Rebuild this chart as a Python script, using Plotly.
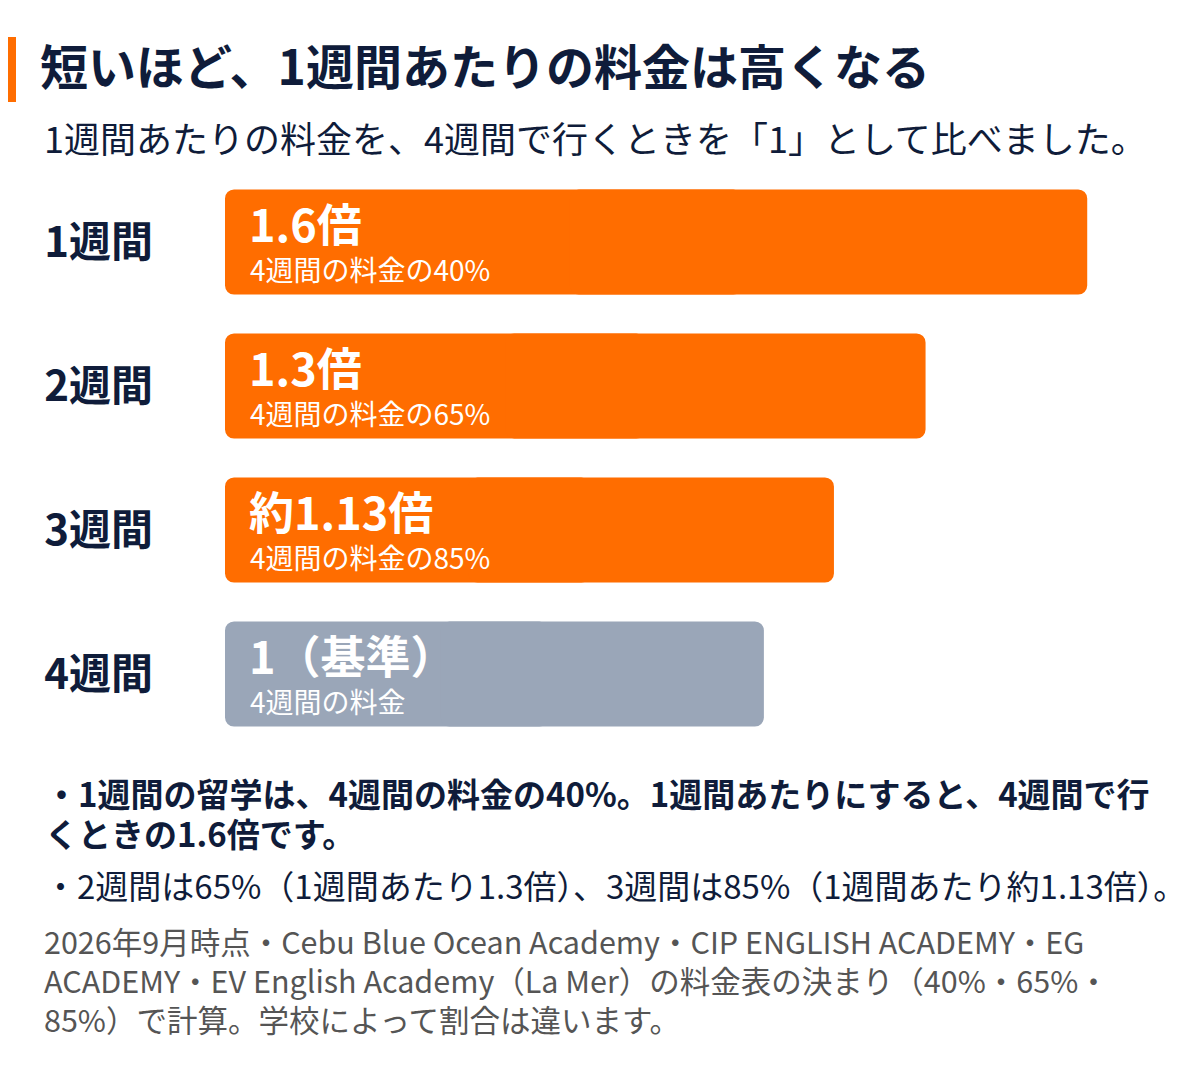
import plotly.graph_objects as go

# Data
periods = ["1週間", "2週間", "3週間", "4週間"]
ratios = [1.6, 1.3, 1.13, 1.0]
ratio_labels = ["1.6倍", "1.3倍", "約1.13倍", "1（基準）"]
share_labels = ["4週間の料金の40%", "4週間の料金の65%", "4週間の料金の85%", "4週間の料金"]
bar_colors = ["#FF6D00", "#FF6D00", "#FF6D00", "#9AA6B8"]

title_text = "短いほど、1週間あたりの料金は高くなる"
subtitle_text = "1週間あたりの料金を、4週間で行くときを「1」として比べました。"
note_lines_bold = [
    "・1週間の留学は、4週間の料金の40%。1週間あたりにすると、4週間で行",
    "くときの1.6倍です。",
]
note_line = "・2週間は65%（1週間あたり1.3倍）、3週間は85%（1週間あたり約1.13倍）。"
source_lines = [
    "2026年9月時点・Cebu Blue Ocean Academy・CIP ENGLISH ACADEMY・EG",
    "ACADEMY・EV English Academy（La Mer）の料金表の決まり（40%・65%・",
    "85%）で計算。学校によって割合は違います。",
]

FONT = "Noto Sans CJK JP"
NAVY = "#0F1C3A"
W, H = 1200, 1071
L, R, T, B = 217, 13, 162, 333
PW, PH = W - L - R, H - T - B


def px(x):
    return (x - L) / PW


def py(y):
    return (H - B - y) / PH


fig = go.Figure()
# each bar is drawn as two overlapping halves so both ends get rounded corners
fig.add_trace(go.Bar(
    y=periods, x=[-r * 0.6 for r in ratios], base=[r * 0.6 for r in ratios],
    orientation="h", marker=dict(color=bar_colors, line=dict(width=0)),
    hoverinfo="skip", showlegend=False,
))
fig.add_trace(go.Bar(
    y=periods, x=[r * 0.6 for r in ratios], base=[r * 0.4 for r in ratios],
    orientation="h", marker=dict(color=bar_colors, line=dict(width=0)),
    hoverinfo="skip", showlegend=False,
))

# Text inside bars
for p, big, small in zip(periods, ratio_labels, share_labels):
    fig.add_annotation(x=0, y=p, xref="x", yref="y", text=f"<b>{big}</b>",
                       xanchor="left", yanchor="middle", xshift=22, yshift=20,
                       showarrow=False, font=dict(family=FONT, size=45, color="white"))
    fig.add_annotation(x=0, y=p, xref="x", yref="y", text=small,
                       xanchor="left", yanchor="middle", xshift=23, yshift=-27,
                       showarrow=False, font=dict(family=FONT, size=28, color="white"))

# Headings
fig.add_shape(type="rect", xref="paper", yref="paper",
              x0=px(0), x1=px(8), y0=py(94), y1=py(29),
              fillcolor="#FF6D00", line=dict(width=0))
fig.add_annotation(x=px(30), y=py(56), xref="paper", yref="paper",
                   text=f"<b>{title_text}</b>", xanchor="left", yanchor="middle",
                   showarrow=False, font=dict(family=FONT, size=48, color=NAVY))
fig.add_annotation(x=px(34), y=py(129), xref="paper", yref="paper",
                   text=subtitle_text, xanchor="left", yanchor="middle",
                   showarrow=False, font=dict(family=FONT, size=36, color=NAVY))

# Notes
for i, line in enumerate(note_lines_bold):
    fig.add_annotation(x=px(35), y=py(785 + 40 * i), xref="paper", yref="paper",
                       text=f"<b>{line}</b>", xanchor="left", yanchor="middle",
                       showarrow=False, font=dict(family=FONT, size=33, color=NAVY))
fig.add_annotation(x=px(34), y=py(877), xref="paper", yref="paper",
                   text=note_line, xanchor="left", yanchor="middle",
                   showarrow=False, font=dict(family=FONT, size=33, color=NAVY))
for i, line in enumerate(source_lines):
    fig.add_annotation(x=px(34), y=py(933 + 39 * i), xref="paper", yref="paper",
                       text=line, xanchor="left", yanchor="middle",
                       showarrow=False, font=dict(family=FONT, size=30.5, color="#555555"))

fig.update_layout(
    width=W, height=H,
    margin=dict(l=L, r=R, t=T, b=B, autoexpand=False),
    paper_bgcolor="white", plot_bgcolor="white",
    barmode="overlay", bargap=0.27, barcornerradius=9,
    xaxis=dict(range=[0, 1.8], visible=False, fixedrange=True),
    yaxis=dict(autorange="reversed", showgrid=False, zeroline=False, showline=False,
               ticks="", ticklabelstandoff=71, fixedrange=True,
               tickfont=dict(family=FONT, size=42, color=NAVY, weight="bold")),
)

fig.write_html("out.html")
